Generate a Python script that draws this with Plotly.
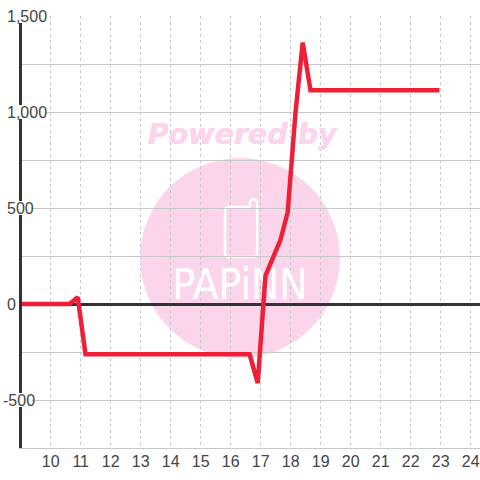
import plotly.graph_objects as go

hours = [8.9, 10.63, 10.9, 11.16, 16.63, 16.9, 17.16, 17.66, 17.9, 18.16, 18.4, 18.66, 22.96]
values = [0, 0, 35, -262, -262, -412, 148, 334, 478, 998, 1362, 1113, 1113]
x_ticks = list(range(10, 25))
y_grid = [v for v in range(-750, 1501, 250)]
y_labels = ["1,500", "1,000", "500", "0", "-500"]
y_label_values = [1500, 1000, 500, 0, -500]

X0, X1 = 9.043, 24.31
Y0, Y1 = -750, 1500
PINK = "#fbd5ec"
INK = "#333333"
LABEL = "#444444"
RED = "#f01f38"
GRID = "#c8c8c8"

fig = go.Figure()
fig.add_trace(go.Scatter(x=[16.37], y=[873], mode="text", text=["Powered by"], textposition="middle center",
                         textfont=dict(family="DejaVu Sans", size=28.5, color=PINK, weight="bold", style="italic",
                                       shadow="0.7px 0 0 #fbd5ec"),
                         hoverinfo="skip", showlegend=False))
fig.add_trace(go.Scatter(x=[16.31], y=[80], mode="text", text=["PAPiNN"], textposition="middle center",
                         textfont=dict(family="DejaVu Sans Condensed", size=42, color="white"),
                         hoverinfo="skip", showlegend=False))
fig.add_trace(go.Scatter(x=hours, y=values, mode="lines", line=dict(color=RED, width=4.5, shape="linear"),
                         cliponaxis=False, hoverinfo="skip", showlegend=False))

shapes = [
    dict(type="circle", xref="x", yref="y", x0=12.98, x1=19.64, y0=-280, y1=760, layer="below",
         fillcolor=PINK, line_width=0),
    dict(type="path", xref="x", yref="y", layer="below", fillcolor="rgba(0,0,0,0)",
         line=dict(color="white", width=2.5),
         path="M 15.81 280 L 15.81 480 Q 15.81 505 15.95 505 L 16.64 505 L 16.64 530 Q 16.76 565 16.88 530 "
              "L 16.88 270 Q 16.88 245 16.75 245 L 15.95 245 Q 15.81 245 15.81 270 Z"),
]
# white patches that open the left axis line behind its labels
label_left = {"1,500": 3, "1,000": 3, "500": 7, "0": 7, "-500": 2}
label_right = {"1,500": 45, "1,000": 45, "500": 32, "0": 17, "-500": 32}
Y_AXIS_PX = 22
for v, t in zip(y_label_values, y_labels):
    shapes.append(dict(type="rect", xref="paper", yref="y", xsizemode="pixel", ysizemode="pixel",
                       xanchor=0, yanchor=v, x0=label_left[t] - Y_AXIS_PX, x1=label_right[t] - Y_AXIS_PX,
                       y0=-7, y1=7, layer="above", fillcolor="white", line_width=0))

annotations = [dict(xref="paper", x=0, y=v, yref="y", text=t, showarrow=False, xanchor="left",
                    xshift=(2 if t == "-500" else 6) - Y_AXIS_PX, yshift=-0.5, borderpad=0,
                    font=dict(family="Liberation Sans", size=16, color=LABEL))
               for v, t in zip(y_label_values, y_labels)]

fig.update_layout(
    width=480, height=480, margin=dict(l=Y_AXIS_PX, r=0, t=16, b=32),
    paper_bgcolor="white", plot_bgcolor="white", shapes=shapes, showlegend=False,
    xaxis=dict(range=[X0, X1], tickmode="array", tickvals=x_ticks, ticktext=[str(t) for t in x_ticks],
               showgrid=True, gridcolor=GRID, griddash="3px,3px", gridwidth=1, zeroline=False,
               tickfont=dict(family="Liberation Sans", size=16, color=LABEL), ticks="", showline=True,
               linecolor=GRID, linewidth=1, ticklabelstandoff=-1),
    yaxis=dict(range=[Y0, Y1], tickmode="array", tickvals=y_grid, showticklabels=False,
               showgrid=True, gridcolor=GRID, gridwidth=1, zeroline=True, zerolinecolor=INK, zerolinewidth=3,
               ticks="", showline=True, linecolor=INK, linewidth=3),
    annotations=annotations,
)
fig.write_html("out.html", config={"displayModeBar": False},
               post_script="document.body.style.margin='0';document.body.style.overflow='hidden';")
